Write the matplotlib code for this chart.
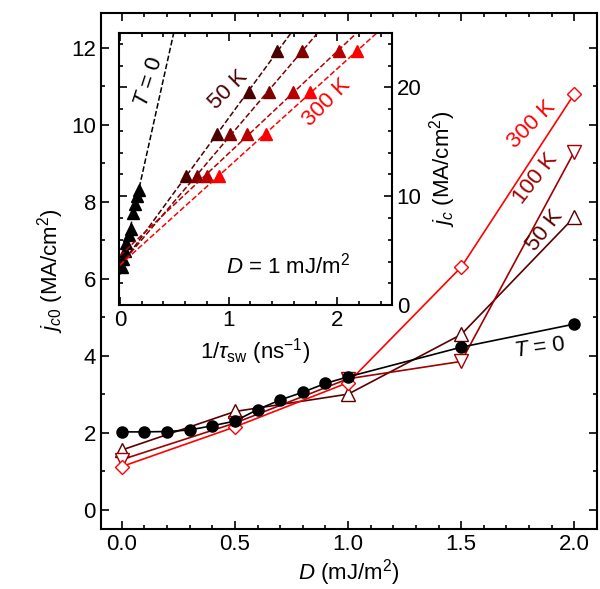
import matplotlib
matplotlib.use("Agg")
import matplotlib.pyplot as plt
import numpy as np
from matplotlib.ticker import MultipleLocator

plt.rcParams.update({"font.family": ["Liberation Sans", "DejaVu Sans"], "font.size": 16,
                     "xtick.direction": "in", "ytick.direction": "in",
                     "mathtext.fontset": "custom", "mathtext.it": "Liberation Sans:italic",
                     "mathtext.rm": "Liberation Sans"})

# main panel data
D_T0 = [0, 0.1, 0.2, 0.3, 0.4, 0.5, 0.6, 0.7, 0.8, 0.9, 1.0, 1.5, 2.0]
jc_T0 = [2.02, 2.02, 2.03, 2.07, 2.18, 2.3, 2.6, 2.85, 3.05, 3.28, 3.45, 4.22, 4.82]
D_T = [0, 0.5, 1.0, 1.5, 2.0]
jc_50K = [1.55, 2.55, 3.0, 4.55, 7.6]
jc_100K = [1.3, 2.25, 3.4, 3.85, 9.3]
jc_300K = [1.12, 2.15, 3.3, 6.3, 10.8]

# inset data
inv_tau_T0 = [0.02, 0.03, 0.05, 0.06, 0.08, 0.1, 0.12, 0.14, 0.16, 0.18]
jc_T0_inset = [3.5, 4.2, 5.0, 5.7, 6.4, 7.0, 8.5, 9.3, 10.0, 10.6]
jc_levels = [11.9, 15.7, 19.6, 23.3]
inv_tau_T = [
    [0.61, 0.89, 1.19, 1.44],
    [0.71, 1.01, 1.37, 1.67],
    [0.80, 1.17, 1.59, 2.01],
    [0.91, 1.34, 1.75, 2.18],
]
inset_colors = ["#4a0000", "#800000", "#b80000", "#ff0000"]
c50, c100, c300 = "#5a0000", "#a00000", "#ff0000"

fig = plt.figure(figsize=(6, 5.89), dpi=100)
ax = fig.add_axes([0.168, 0.102, 0.827, 0.876])
ax.plot(D_T0, jc_T0, "-o", color="k", ms=8, lw=1.2, zorder=5)
ax.plot(D_T, jc_50K, "-^", color=c50, mfc="white", ms=10, lw=1.2)
ax.plot(D_T, jc_100K, "-v", color=c100, mfc="white", ms=10, lw=1.2)
ax.plot(D_T, jc_300K, "-D", color=c300, mfc="white", ms=7, lw=1.2)
ax.set_xlim(-0.093, 2.1)
ax.set_ylim(-0.5, 12.9)
ax.set_xticks([0, 0.5, 1.0, 1.5, 2.0])
ax.set_xticklabels(["0.0", "0.5", "1.0", "1.5", "2.0"])
ax.xaxis.set_minor_locator(MultipleLocator(0.1))
ax.set_yticks(range(0, 13, 2))
ax.yaxis.set_minor_locator(MultipleLocator(1))
ax.tick_params(which="both", top=True, right=True, width=1.2)
ax.tick_params(which="major", length=6)
ax.tick_params(which="minor", length=3)
for s in ax.spines.values():
    s.set_linewidth(1.5)
ax.set_xlabel("$D$ (mJ/m$^2$)", labelpad=2)
ax.set_ylabel("$j_{c0}$ (MA/cm$^2$)")
ax.text(1.81, 10.0, "300 K", color=c300, rotation=45, ha="center", va="center")
ax.text(1.83, 8.6, "100 K", color=c100, rotation=52, ha="center", va="center")
ax.text(1.87, 7.25, "50 K", color=c50, rotation=52, ha="center", va="center")
ax.text(1.85, 4.2, "$T$ = 0", color="k", rotation=8, ha="center", va="center")

ins = fig.add_axes([0.198, 0.482, 0.455, 0.462])
ins.plot(inv_tau_T0, jc_T0_inset, "^", color="k", ms=8)
xs = np.linspace(0, 2.6, 50)
p = np.polyfit(inv_tau_T0, jc_T0_inset, 1)
ins.plot(xs, np.polyval(p, xs), "--", color="k", lw=1.1)
for xv, col in zip(inv_tau_T, inset_colors):
    ins.plot(xv, jc_levels, "^", color=col, ms=8)
    p = np.polyfit(xv, jc_levels, 1)
    ins.plot(xs, np.polyval(p, xs), "--", color=col, lw=1.1)
ins.set_xlim(-0.01, 2.5)
ins.set_ylim(0, 25)
ins.set_xticks([0, 1, 2])
ins.xaxis.set_minor_locator(MultipleLocator(0.2))
ins.set_yticks([0, 10, 20])
ins.yaxis.set_minor_locator(MultipleLocator(2))
ins.yaxis.tick_right()
ins.yaxis.set_label_position("right")
ins.tick_params(which="both", left=True, right=True, top=True, width=1.2)
ins.tick_params(which="major", length=6)
ins.tick_params(which="minor", length=3)
for s in ins.spines.values():
    s.set_linewidth(1.5)
ins.set_xlabel(r"1/$\tau_{\rm sw}$ (ns$^{-1}$)")
ins.set_ylabel("$j_c$ (MA/cm$^2$)")
ins.text(0.27, 20.5, "$T$ = 0", rotation=72, ha="center", va="center")
ins.text(1.0, 19.8, "50 K", color=inset_colors[0], rotation=45, ha="center", va="center")
ins.text(1.9, 18.6, "300 K", color="#ff0000", rotation=45, ha="center", va="center")
ins.text(1.55, 3.6, "$D$ = 1 mJ/m$^2$", ha="center", va="center")

fig.savefig("out.png")
